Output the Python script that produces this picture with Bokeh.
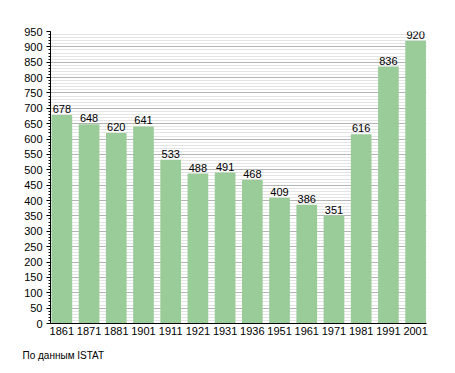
from bokeh.plotting import figure
from bokeh.models import ColumnDataSource, Range1d, FixedTicker, Title, LabelSet
from bokeh.core.properties import value
from bokeh.embed import file_html
from bokeh.resources import INLINE

years = ["1861", "1871", "1881", "1901", "1911", "1921", "1931", "1936",
         "1951", "1961", "1971", "1981", "1991", "2001"]
values = [678, 648, 620, 641, 533, 488, 491, 468, 409, 386, 351, 616, 836, 920]
y_ticks = list(range(0, 951, 50))
y_minor = list(range(0, 951, 10))
source_note = "По данным  ISTAT"

idx = list(range(len(years)))
src = ColumnDataSource(dict(x=idx, top=values, lab=[str(v) for v in values]))

FONT = "Liberation Sans"

p = figure(width=447, height=372, output_backend="svg", toolbar_location=None,
           x_range=Range1d(-0.417, 13.40), y_range=Range1d(0, 950),
           min_border_left=50, min_border_right=21, min_border_top=31,
           min_border_bottom=49)
p.outline_line_color = None

p.vbar(x="x", top="top", width=0.76, bottom=0, source=src,
       fill_color="#99cc99", line_color=None)

labels = LabelSet(x="x", y="top", text="lab", source=src, text_align="center",
                  text_baseline="bottom", y_offset=2, text_font=value(FONT),
                  text_font_size=value("11px"), text_color="#000000")
p.add_layout(labels)

p.xaxis.ticker = FixedTicker(ticks=idx)
p.xaxis.major_label_overrides = {i: y for i, y in enumerate(years)}
p.xaxis.major_tick_in = 0
p.xaxis.major_tick_out = 0
p.xaxis.minor_tick_in = 0
p.xaxis.minor_tick_out = 0
p.xaxis.major_tick_line_color = None
p.xaxis.minor_tick_line_color = None
p.xaxis.axis_line_color = "#000000"
p.xaxis.major_label_standoff = 3

p.yaxis.ticker = FixedTicker(ticks=y_ticks, minor_ticks=y_minor)
p.yaxis.major_tick_in = 0
p.yaxis.major_tick_out = 4
p.yaxis.minor_tick_in = 0
p.yaxis.minor_tick_out = 2
p.yaxis.axis_line_color = "#000000"
p.yaxis.major_tick_line_color = "#000000"
p.yaxis.minor_tick_line_color = "#000000"
p.yaxis.major_label_standoff = 4

for ax in (p.xaxis, p.yaxis):
    ax.major_label_text_font = FONT
    ax.major_label_text_font_size = "11px"
    ax.major_label_text_color = "#000000"

p.xgrid.grid_line_color = None
p.ygrid.grid_line_color = "#b4b4b4"
p.ygrid.minor_grid_line_color = "#e4e4e4"
p.ygrid.level = "underlay"

note = Title(text=source_note, align="left", offset=-28, standoff=21,
             text_font=FONT, text_font_size="10px", text_font_style="normal",
             text_color="#000000")
p.add_layout(note, "below")

open("out.html", "w").write(file_html(p, INLINE))
